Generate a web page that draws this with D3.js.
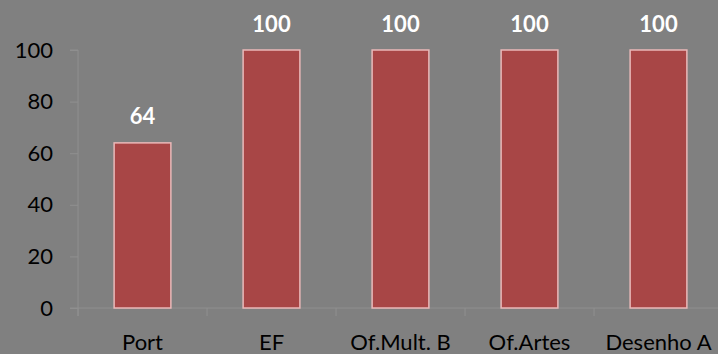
<!DOCTYPE html>
<html><head><meta charset="utf-8">
<script src="https://cdn.jsdelivr.net/npm/d3@7"></script>
<style>body{margin:0;background:#808080;}svg{display:block;}</style>
</head><body><div id="chart"></div>
<script>
const categories = ["Port", "EF", "Of.Mult. B", "Of.Artes", "Desenho A"];
const values = [64, 100, 100, 100, 100];
const yTicks = [0, 20, 40, 60, 80, 100];

const W = 718, H = 354;
const FONT = "Lato, 'Open Sans', sans-serif";
const left = 78, step = 129;
const svg = d3.select("#chart").append("svg").attr("width", W).attr("height", H)
  .style("font-family", FONT);
svg.append("rect").attr("width", W).attr("height", H).attr("fill", "#808080");

const x = d3.scaleBand().domain(categories).range([left, left + step * categories.length])
  .paddingInner(0.56).paddingOuter(0.28);
const y = d3.scaleLinear().domain([0, 100]).range([308, 50]);

const gy = svg.append("g").attr("transform", `translate(${left},0)`)
  .call(d3.axisLeft(y).tickValues(yTicks).tickSize(8).tickPadding(17));
gy.select(".domain").attr("stroke", "#8f8f8f").attr("d", `M-8,${y(100)}H0V${y(0)+8}`);
gy.selectAll(".tick line").attr("stroke", "#8f8f8f");
gy.selectAll(".tick text").attr("fill", "#000").style("font-size", "22px").style("font-family", FONT);

svg.append("line").attr("x1", left - 8).attr("x2", W).attr("y1", y(0)).attr("y2", y(0)).attr("stroke", "#8f8f8f");
svg.selectAll(".xt").data(categories).join("line")
  .attr("x1", d => x(d) + x.bandwidth()/2 - step/2)
  .attr("x2", d => x(d) + x.bandwidth()/2 - step/2)
  .attr("y1", y(0)).attr("y2", y(0) + 8).attr("stroke", "#8f8f8f");

svg.selectAll(".bar").data(values).join("rect")
  .attr("x", (d, i) => x(categories[i]))
  .attr("y", d => y(d))
  .attr("width", x.bandwidth())
  .attr("height", d => y(0) - y(d))
  .attr("fill", "#a84646")
  .attr("stroke", "#eab8b8").attr("stroke-width", 1.5);

svg.selectAll(".vl").data(values).join("text")
  .attr("x", (d, i) => x(categories[i]) + x.bandwidth()/2)
  .attr("y", d => y(d) - 18.5)
  .attr("text-anchor", "middle")
  .attr("fill", "#fff").style("font-weight", "bold").style("font-size", "22px")
  .text(d => d);

svg.selectAll(".xl").data(categories).join("text")
  .attr("x", d => x(d) + x.bandwidth()/2)
  .attr("y", 350)
  .attr("text-anchor", "middle")
  .attr("fill", "#000").style("font-size", "22px")
  .text(d => d);
</script></body></html>
